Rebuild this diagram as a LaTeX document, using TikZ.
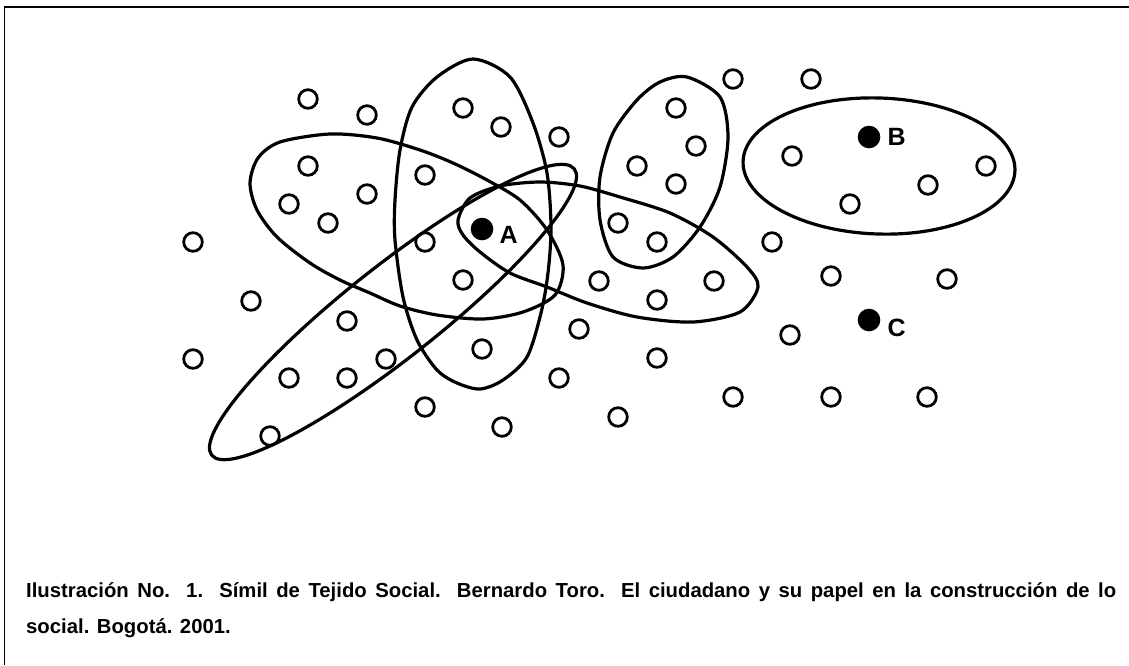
\documentclass[tikz,border=0pt]{standalone}
\usepackage{fontspec}
\setmainfont{Liberation Sans}
\usetikzlibrary{positioning}

\begin{document}
\begin{tikzpicture}[x=1pt,y=-1pt]
	\tikzset{hueco/.style={circle,draw,line width=2.8pt,minimum size=18.6pt,inner sep=0pt}}
	\tikzset{punto/.style={circle,fill,minimum size=22.6pt,inner sep=0pt}}
	\tikzset{letra/.style={font=\fontsize{25}{25}\selectfont\bfseries,inner sep=0pt}}
	\tikzset{lazo/.style={line width=3.2pt}}
	\useasboundingbox (0,0) rectangle (1129,665);
	% marco
	\draw[line width=1.8pt] (4.5,665) -- (4.5,7) -- (1129,7);
	% personas
	\foreach \x/\y [count=\i] in {308/99,367/115,308/166,289/204,328/223,367/194,193/242,251/301,193/359,347/321,289/378,347/378,386/359,270/436,
		463/108,501/127,559/137,425/175,425/242,463/280,482/349,425/407,502/427,559/378,579/329,618/417,599/281,657/300,657/358,714/281,
		676/108,696/146,637/166,676/184,618/223,657/242,733/79,811/79,
		792/156,850/204,928/185,986/166,772/242,831/276,947/279,790/335,733/397,831/397,927/397}
		\node[hueco] (c\i) at (\x,\y) {};
	\node[punto] (A) at (482,229) {};
	\node[punto] (B) at (869,137) {};
	\node[punto] (C) at (869,320) {};
	\node[letra,right=6pt of A,yshift=-6pt] (labA) {A};
	\node[letra,right=7pt of B] (labB) {B};
	\node[letra,right=7pt of C,yshift=-8pt] (labC) {C};
	% grupos
	\draw[lazo] plot[smooth cycle] coordinates {(250,183) (258,158) (280,142) (330,134) (377,138) (420,150) (453,163) (487,180) (520,200) (547,230) (563,265) (555,295) (523,312) (483,319) (437,315) (400,306) (370,293) (340,280) (310,263) (277,237) (257,210)};
	\draw[lazo] plot[smooth cycle] coordinates {(473,59) (510,77) (533,123) (547,173) (551,227) (548,273) (541,313) (527,357) (503,380) (480,389) (457,383) (437,370) (417,340) (403,297) (395,240) (395,200) (400,150) (412,107) (437,77)};
	\draw[lazo] plot[smooth cycle] coordinates {(458,220) (470,198) (500,186) (540,182) (580,186) (620,197) (670,213) (713,237) (747,267) (758,287) (740,312) (693,322) (637,317) (587,303) (547,287) (510,273) (480,252) (463,235)};
	\draw[lazo] plot[smooth cycle] coordinates {(687,77) (720,97) (728,137) (720,187) (700,227) (673,257) (643,268) (613,257) (600,220) (600,177) (613,133) (637,100) (660,82)};
	\draw[lazo,rotate around={38.3:(393,312)}] (393,312) ellipse (231 and 46);
	\draw[lazo,rotate around={-2:(879,166)}] (879,166) ellipse (136 and 68);
	% pie
	\node[anchor=base west,text width=1090pt,align=justify,inner sep=0pt,font=\fontsize{20.3}{36}\selectfont\bfseries] (pie) at (26,597)
		{Ilustración No. 1. Símil de Tejido Social. Bernardo Toro. El ciudadano y su papel en la construcción de lo\linebreak social. Bogotá. 2001.};
\end{tikzpicture}
\end{document}
